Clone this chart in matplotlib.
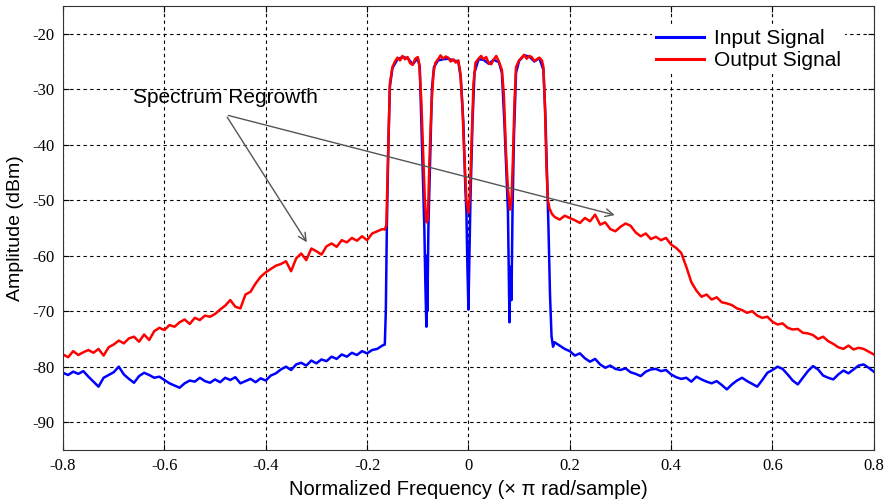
import matplotlib
matplotlib.use('Agg')
import matplotlib.pyplot as plt
import numpy as np

plt.rcParams['axes.unicode_minus'] = False

# output signal (red)
out_freq = [
    -0.80, -0.79, -0.78, -0.77, -0.76, -0.75, -0.74, -0.73, -0.72, -0.71,
    -0.70, -0.69, -0.68, -0.67, -0.66, -0.65, -0.64, -0.63, -0.62, -0.61,
    -0.60, -0.59, -0.58, -0.57, -0.56, -0.55, -0.54, -0.53, -0.52, -0.51,
    -0.50, -0.49, -0.48, -0.47, -0.46, -0.45, -0.44, -0.43, -0.42, -0.41,
    -0.40, -0.39, -0.38, -0.37, -0.36, -0.35, -0.34, -0.33, -0.32, -0.31,
    -0.30, -0.29, -0.28, -0.27, -0.26, -0.25, -0.24, -0.23, -0.22, -0.21,
    -0.20, -0.19, -0.18, -0.17, -0.165,
    -0.162, -0.158, -0.155, -0.150, -0.145, -0.140, -0.135, -0.130, -0.125, -0.120,
    -0.115, -0.110, -0.105, -0.100, -0.097, -0.093, -0.089, -0.086, -0.083, -0.080,
    -0.077, -0.073, -0.069, -0.065, -0.060, -0.055, -0.050, -0.045, -0.040, -0.035,
    -0.030, -0.025, -0.020, -0.016, -0.012, -0.008, -0.004, 0.000, 0.003, 0.006,
    0.010, 0.014, 0.020, 0.025, 0.030, 0.035, 0.040, 0.045, 0.050, 0.055,
    0.060, 0.066, 0.070, 0.074, 0.078, 0.082, 0.085, 0.088, 0.091, 0.094,
    0.100, 0.105, 0.110, 0.115, 0.120, 0.125, 0.130, 0.135, 0.140, 0.145,
    0.148, 0.151, 0.154, 0.157, 0.160, 0.165,
    0.17, 0.18, 0.19, 0.20, 0.21, 0.22, 0.23, 0.24, 0.25, 0.26,
    0.27, 0.28, 0.29, 0.30, 0.31, 0.32, 0.33, 0.34, 0.35, 0.36,
    0.37, 0.38, 0.39, 0.40, 0.41, 0.42, 0.43, 0.44, 0.45, 0.46,
    0.47, 0.48, 0.49, 0.50, 0.51, 0.52, 0.53, 0.54, 0.55, 0.56,
    0.57, 0.58, 0.59, 0.60, 0.61, 0.62, 0.63, 0.64, 0.65, 0.66,
    0.67, 0.68, 0.69, 0.70, 0.71, 0.72, 0.73, 0.74, 0.75, 0.76,
    0.77, 0.78, 0.79, 0.80]
out_db = [
    -77.8, -78.3, -77.2, -77.9, -77.4, -77.0, -77.5, -76.8, -78.0, -76.5,
    -76.0, -75.3, -75.8, -74.9, -74.6, -75.5, -74.2, -75.2, -73.6, -73.0,
    -73.4, -72.5, -72.8, -72.0, -71.5, -72.3, -71.2, -71.6, -70.8, -71.0,
    -70.5, -69.7, -69.0, -68.0, -69.2, -69.5, -67.0, -66.5, -65.0, -63.8,
    -63.0, -62.4, -61.8, -61.5, -61.0, -62.8, -60.5, -59.6, -60.8, -58.7,
    -59.2, -59.8, -58.3, -57.8, -58.4, -57.2, -57.6, -56.8, -57.3, -56.5,
    -57.2, -56.0, -55.6, -55.2, -55.3,
    -54.5, -40.0, -29.0, -26.0, -25.0, -24.3, -24.8, -24.0, -24.6, -24.2,
    -25.3, -25.6, -24.5, -24.2, -25.5, -32.0, -42.0, -50.0, -54.0, -53.5,
    -43.0, -33.0, -27.0, -25.2, -24.6, -23.9, -24.5, -24.1, -24.3, -25.0,
    -24.6, -25.2, -24.8, -27.0, -33.0, -42.0, -50.0, -52.3, -49.0, -40.0,
    -29.0, -25.2, -24.5, -24.0, -24.6, -24.2, -25.3, -25.5, -24.6, -24.0,
    -25.0, -26.5, -31.0, -41.0, -48.0, -51.7, -50.0, -42.0, -32.0, -26.0,
    -24.8, -24.3, -23.8, -24.5, -24.0, -24.2, -24.9, -24.6, -24.3, -24.8,
    -26.0, -33.0, -44.0, -50.0, -51.5, -52.5,
    -53.0, -53.5, -52.8, -53.2, -53.6, -54.1, -53.2, -53.8, -52.6, -54.4,
    -54.0, -55.2, -55.6, -54.8, -54.2, -54.6, -55.8, -56.5, -56.0, -57.0,
    -56.6, -57.2, -56.8, -58.0, -58.6, -59.5, -62.0, -64.8, -66.3, -67.4,
    -67.0, -67.9, -67.5, -68.4, -68.6, -68.9, -69.5, -69.8, -70.3, -70.0,
    -70.8, -71.2, -71.0, -71.9, -72.4, -72.2, -73.0, -73.3, -73.2, -73.9,
    -74.0, -74.3, -75.0, -74.6, -75.4, -75.9, -76.5, -76.8, -76.2, -76.9,
    -76.6, -76.8, -77.3, -77.8]

# input signal (blue)
in_freq = [
    -0.80, -0.79, -0.78, -0.77, -0.76, -0.75, -0.74, -0.73, -0.72, -0.71,
    -0.70, -0.69, -0.68, -0.67, -0.66, -0.65, -0.64, -0.63, -0.62, -0.61,
    -0.60, -0.59, -0.58, -0.57, -0.56, -0.55, -0.54, -0.53, -0.52, -0.51,
    -0.50, -0.49, -0.48, -0.47, -0.46, -0.45, -0.44, -0.43, -0.42, -0.41,
    -0.40, -0.39, -0.38, -0.37, -0.36, -0.35, -0.34, -0.33, -0.32, -0.31,
    -0.30, -0.29, -0.28, -0.27, -0.26, -0.25, -0.24, -0.23, -0.22, -0.21,
    -0.20, -0.19, -0.18, -0.17, -0.165,
    -0.163, -0.161, -0.158, -0.155, -0.150, -0.140, -0.130, -0.120, -0.110, -0.100,
    -0.096, -0.090, -0.087, -0.085, -0.083, -0.082, -0.081, -0.079, -0.076, -0.072,
    -0.068, -0.060, -0.050, -0.040, -0.030, -0.020, -0.015, -0.010, -0.006, -0.004,
    -0.002, 0.000, 0.002, 0.004, 0.008, 0.012, 0.020, 0.030, 0.040, 0.050,
    0.060, 0.066, 0.071, 0.075, 0.078, 0.080, 0.081, 0.083, 0.085, 0.087,
    0.090, 0.094, 0.100, 0.110, 0.120, 0.130, 0.140, 0.148, 0.152, 0.155,
    0.158, 0.161, 0.164, 0.167,
    0.17, 0.18, 0.19, 0.20, 0.21, 0.22, 0.23, 0.24, 0.25, 0.26,
    0.27, 0.28, 0.29, 0.30, 0.31, 0.32, 0.33, 0.34, 0.35, 0.36,
    0.37, 0.38, 0.39, 0.40, 0.41, 0.42, 0.43, 0.44, 0.45, 0.46,
    0.47, 0.48, 0.49, 0.50, 0.51, 0.52, 0.53, 0.54, 0.55, 0.56,
    0.57, 0.58, 0.59, 0.60, 0.61, 0.62, 0.63, 0.64, 0.65, 0.66,
    0.67, 0.68, 0.69, 0.70, 0.71, 0.72, 0.73, 0.74, 0.75, 0.76,
    0.77, 0.78, 0.79, 0.80]
in_db = [
    -81.1, -81.5, -80.9, -81.3, -80.8, -81.8, -82.7, -83.6, -82.0, -81.5,
    -81.0, -80.0, -81.4, -82.2, -82.9, -81.7, -81.1, -81.5, -82.0, -81.8,
    -82.4, -83.0, -83.4, -83.8, -83.0, -82.5, -82.7, -82.0, -82.6, -82.9,
    -82.3, -82.8, -82.0, -82.4, -81.9, -83.0, -82.6, -82.2, -82.8, -82.1,
    -82.5, -81.6, -81.2, -80.5, -80.0, -80.6, -79.6, -79.3, -79.8, -78.9,
    -79.4, -78.7, -79.0, -78.2, -78.6, -77.8, -78.2, -77.5, -77.9, -77.2,
    -77.6, -77.0, -76.8, -76.2, -76.0,
    -70.0, -55.0, -40.0, -29.5, -26.2, -24.6, -24.2, -24.4, -25.5, -24.4,
    -26.0, -45.0, -55.0, -65.0, -72.8, -60.0, -70.0, -55.0, -44.0, -30.0,
    -26.0, -24.8, -24.6, -24.5, -24.8, -25.0, -28.0, -36.0, -48.0, -52.0,
    -62.0, -69.7, -60.0, -50.0, -36.0, -27.0, -24.6, -24.7, -25.4, -24.7,
    -25.1, -27.0, -36.0, -45.0, -52.0, -65.0, -72.0, -62.0, -68.0, -52.0,
    -38.0, -27.0, -24.9, -23.9, -24.1, -25.0, -24.4, -26.5, -35.0, -45.0,
    -55.0, -67.0, -74.5, -76.4,
    -75.6, -76.2, -76.8, -77.2, -78.0, -77.6, -78.5, -79.1, -78.6, -79.6,
    -80.2, -79.8, -80.4, -80.6, -80.3, -81.0, -81.3, -81.7, -80.9, -80.5,
    -80.4, -80.8, -80.6, -81.4, -81.9, -82.2, -82.0, -82.7, -81.8, -82.3,
    -82.7, -83.0, -82.6, -83.3, -84.1, -83.2, -82.5, -82.0, -82.6, -83.1,
    -83.6, -82.4, -81.1, -80.6, -80.0, -80.4, -81.4, -82.5, -83.2, -82.0,
    -80.8, -79.9, -80.5, -81.6, -82.0, -82.3, -81.4, -80.7, -81.2, -80.5,
    -79.8, -79.6, -80.2, -80.9]

xticks = [-0.8, -0.6, -0.4, -0.2, 0, 0.2, 0.4, 0.6, 0.8]
xtick_labels = ['-0.8', '-0.6', '-0.4', '-0.2', '0', '0.2', '0.4', '0.6', '0.8']
yticks = [-90, -80, -70, -60, -50, -40, -30, -20]

# annotation: text spot and arrow tips
note_xy = (-0.479, -31.5)
arrow_start = (-0.479, -34.6)
arrow_tips = [(-0.316, -58.0), (0.294, -52.8)]

fig = plt.figure(figsize=(8.88, 5.01), dpi=100)
ax = fig.add_axes([0.071, 0.102, 0.913, 0.886])

ax.plot(in_freq, in_db, color='#0000ff', lw=1.8, label='Input Signal')
ax.plot(out_freq, out_db, color='#ff0000', lw=1.8, label='Output Signal')

ax.set_xlim(-0.8, 0.8)
ax.set_ylim(-95, -15)
ax.set_xticks(xticks)
ax.set_xticklabels(xtick_labels)
ax.set_yticks(yticks)
for lab in ax.get_xticklabels() + ax.get_yticklabels():
    lab.set_family('Liberation Serif')
    lab.set_fontsize(12)
ax.tick_params(direction='in', length=4, top=True, right=True, pad=6)

ax.grid(True, color='k', linestyle=(0, (3, 3)), linewidth=0.8)
for sp in ax.spines.values():
    sp.set_color('#333333')

ax.set_xlabel('Normalized Frequency (\u00d7 \u03c0 rad/sample)', family='Liberation Sans', fontsize=14.5, labelpad=4)
ax.set_ylabel('Amplitude (dBm)', family='Liberation Sans', fontsize=14, labelpad=6)

ax.text(note_xy[0], note_xy[1], 'Spectrum Regrowth', family='Liberation Sans', fontsize=15,
        ha='center', va='center')
for tip in arrow_tips:
    ax.annotate('', xy=tip, xytext=arrow_start,
                arrowprops=dict(arrowstyle='->', color='#555555', lw=1.0, mutation_scale=14))

leg = ax.legend(loc='upper right', bbox_to_anchor=(0.965, 0.958), borderaxespad=0,
                prop={'family': 'Liberation Sans', 'size': 15}, frameon=True, fancybox=False,
                handlelength=2.3, handletextpad=0.5, labelspacing=0.15, borderpad=0.2)
leg.get_frame().set_edgecolor('none')
leg.get_frame().set_facecolor('white')
leg.get_frame().set_alpha(1)
for line in leg.get_lines():
    line.set_linewidth(2.2)

fig.savefig('out.png', dpi=100)
